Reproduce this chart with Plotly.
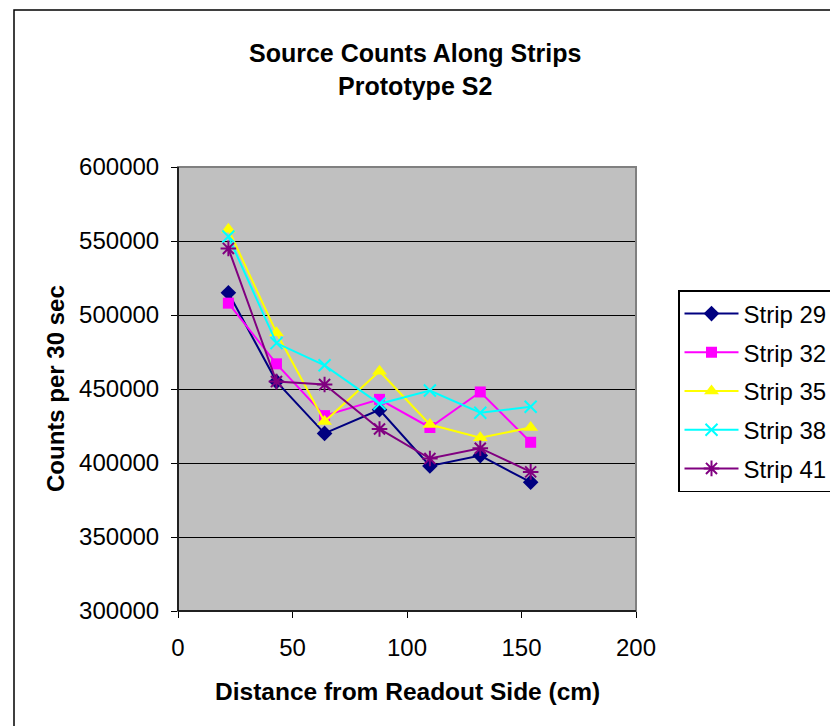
import plotly.graph_objects as go

distance = [22, 43, 64, 88, 110, 132, 154]
strip_names = ["Strip 29", "Strip 32", "Strip 35", "Strip 38", "Strip 41"]
strip29 = [515000, 455000, 420000, 436000, 398000, 405000, 387000]
strip32 = [508000, 467000, 432000, 443000, 424000, 448000, 414000]
strip35 = [558000, 488000, 428000, 462000, 426000, 417000, 424000]
strip38 = [553000, 481000, 466000, 440000, 449000, 434000, 438000]
strip41 = [545000, 455000, 453000, 423000, 403000, 410000, 394000]
y_ticks = [300000, 350000, 400000, 450000, 500000, 550000, 600000]
x_ticks = [0, 50, 100, 150, 200]

series = [strip29, strip32, strip35, strip38, strip41]
colors = ["#000080", "#FF00FF", "#FFFF00", "#00FFFF", "#800080"]
symbols = ["diamond", "square", "triangle-up", "x-thin", "asterisk"]
sizes = [12, 11, 13, 12, 13]

W, H = 830, 726
L, R, T, B = 178, 636, 167, 611

fig = go.Figure()
for name, vals, c, s, sz in zip(strip_names, series, colors, symbols, sizes):
    fig.add_trace(go.Scatter(
        x=distance, y=vals, name=name, mode="lines+markers",
        legendgroup=name,
        line=dict(color=c, width=2),
        marker=dict(symbol=s, size=sz, color=c, line=dict(color=c, width=2 if s in ("x-thin", "asterisk") else 0)),
    ))

font = "Liberation Sans, Arial, sans-serif"
fig.update_layout(
    width=W, height=H,
    margin=dict(l=L, r=W - R, t=T, b=H - B, pad=0, autoexpand=False),
    paper_bgcolor="white", plot_bgcolor="#C0C0C0",
    font=dict(family=font, size=24, color="black"),
    showlegend=True,
    legend=dict(
        x=(678 - L) / (R - L), y=(B - 290) / (B - T), xanchor="left", yanchor="top",
        bordercolor="black", borderwidth=1.5, bgcolor="white",
        font=dict(size=24, family=font), tracegroupgap=4.5, itemwidth=54,
    ),
    xaxis=dict(range=[0, 200], tickvals=x_ticks, showgrid=False, zeroline=False,
               showline=True, linecolor="black", linewidth=1, ticks="outside", ticklen=6,
               tickcolor="black", tickfont=dict(size=24), ticklabelstandoff=9),
    yaxis=dict(range=[300000, 600000], tickvals=y_ticks, showgrid=True, gridcolor="black",
               gridwidth=1, zeroline=False, showline=True, linecolor="black", linewidth=1,
               ticks="outside", ticklen=6, tickcolor="black", tickfont=dict(size=24),
               tickformat="d", ticklabelstandoff=7),
    shapes=[
        dict(type="rect", xref="paper", yref="paper", x0=0, x1=1, y0=0, y1=1,
             line=dict(color="#808080", width=2), layer="above"),
        dict(type="line", xref="paper", yref="paper", x0=0, x1=0, y0=0, y1=1,
             line=dict(color="black", width=1.5), layer="above"),
        dict(type="line", xref="paper", yref="paper", x0=0, x1=1, y0=0, y1=0,
             line=dict(color="black", width=1.5), layer="above"),
        dict(type="rect", xref="paper", yref="paper",
             x0=(14 - L) / (R - L), x1=(845 - L) / (R - L),
             y0=(B - 745) / (B - T), y1=(B - 10) / (B - T),
             line=dict(color="black", width=1.5), layer="above"),
    ],
    annotations=[
        dict(text="<b>Source Counts Along Strips<br>Prototype S2</b>", xref="paper", yref="paper",
             x=(415 - L) / (R - L), y=(B - 69) / (B - T), showarrow=False,
             font=dict(size=25, family=font), xanchor="center", yanchor="middle"),
        dict(text="<b>Distance from Readout Side (cm)</b>", xref="paper", yref="paper",
             x=(407 - L) / (R - L), y=(B - 691) / (B - T), showarrow=False,
             font=dict(size=24.5, family=font), xanchor="center", yanchor="middle"),
        dict(text="<b>Counts per 30 sec</b>", xref="paper", yref="paper",
             x=(55 - L) / (R - L), y=(B - 389) / (B - T), showarrow=False, textangle=-90,
             font=dict(size=24, family=font), xanchor="center", yanchor="middle"),
    ],
)

fig.write_html("out.html")
